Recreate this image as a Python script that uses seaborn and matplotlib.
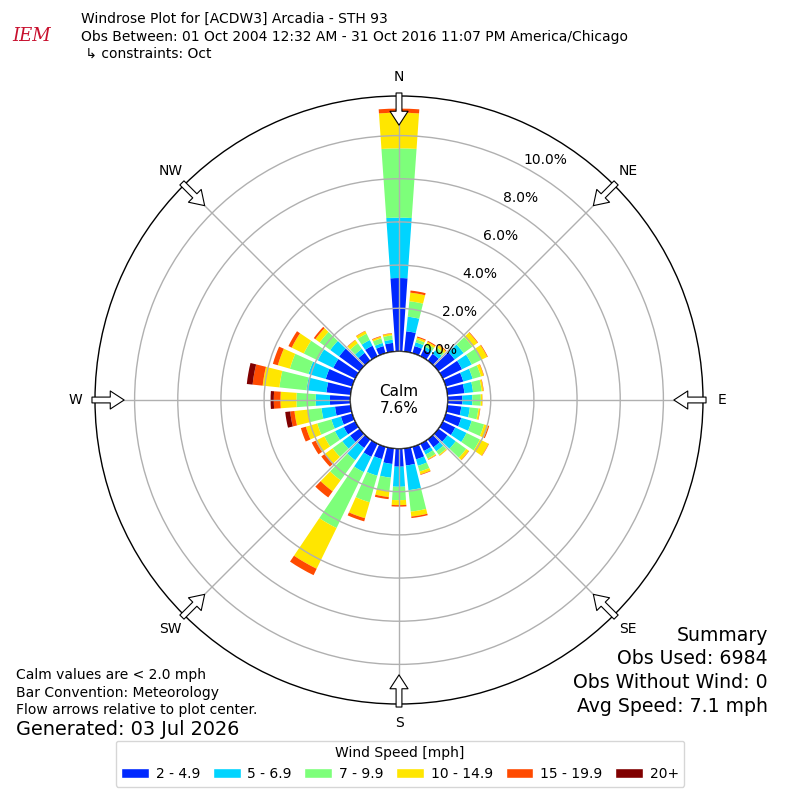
import numpy as np
import matplotlib
matplotlib.use("Agg")
import matplotlib.pyplot as plt
from matplotlib.patches import Circle, Patch
import seaborn as sns

# wind directions (deg, meteorological) and frequency (%) per speed bin
directions = [0, 10, 20, 30, 40, 50, 60, 70, 80, 90, 100, 110, 120, 130, 140, 150, 160, 170,
              180, 190, 200, 210, 220, 230, 240, 250, 260, 270, 280, 290, 300, 310, 320, 330, 340, 350]
spd_2_5 = [3.40, 0.95, 0.35, 0.35, 0.40, 0.94, 1.00, 0.85, 0.80, 0.69, 0.65, 0.75, 0.65, 0.53, 0.46, 0.38, 0.61, 0.80,
           0.84, 0.73, 0.60, 0.68, 0.50, 0.55, 0.60, 0.55, 0.73, 0.95, 1.13, 1.28, 1.14, 1.18, 0.45, 0.55, 0.35, 0.41]
spd_5_7 = [2.80, 0.68, 0.18, 0.15, 0.20, 0.51, 0.50, 0.45, 0.40, 0.46, 0.40, 0.50, 0.58, 0.47, 0.23, 0.18, 0.31, 1.15,
           0.93, 0.64, 0.80, 0.79, 0.70, 0.45, 0.45, 0.46, 0.63, 0.66, 0.93, 0.83, 0.80, 0.51, 0.23, 0.29, 0.15, 0.15]
spd_7_10 = [3.21, 0.72, 0.14, 0.15, 0.15, 0.50, 0.50, 0.40, 0.40, 0.39, 0.40, 0.60, 0.69, 0.60, 0.20, 0.21, 0.28, 1.00,
            0.62, 0.62, 1.28, 2.88, 1.15, 0.55, 0.55, 0.68, 0.63, 0.89, 1.26, 0.90, 0.72, 0.60, 0.32, 0.33, 0.22, 0.20]
spd_10_15 = [1.65, 0.40, 0.09, 0.10, 0.13, 0.30, 0.30, 0.13, 0.08, 0.07, 0.07, 0.20, 0.45, 0.15, 0.05, 0.05, 0.13, 0.23,
             0.23, 0.28, 0.77, 2.10, 0.63, 0.45, 0.45, 0.55, 0.63, 0.74, 0.78, 0.58, 0.62, 0.25, 0.18, 0.13, 0.08, 0.09]
spd_15_20 = [0.19, 0.10, 0.05, 0.05, 0.04, 0.03, 0.03, 0.02, 0.02, 0.01, 0.02, 0.05, 0.02, 0.02, 0.01, 0.02, 0.03, 0.07,
             0.07, 0.10, 0.15, 0.33, 0.35, 0.20, 0.20, 0.24, 0.20, 0.31, 0.47, 0.24, 0.17, 0.09, 0.02, 0.02, 0.03, 0.02]
spd_20p = [0, 0, 0, 0, 0, 0, 0, 0, 0, 0, 0, 0, 0, 0, 0, 0, 0, 0,
           0, 0, 0, 0, 0, 0, 0, 0, 0.23, 0.15, 0.27, 0, 0, 0, 0, 0, 0, 0]
bin_labels = ["2 - 4.9", "5 - 6.9", "7 - 9.9", "10 - 14.9", "15 - 19.9", "20+"]
bin_colors = ["#0028ff", "#00d4ff", "#7dff7a", "#ffe600", "#ff4a00", "#800000"]
calm_pct = 7.6
rticks = [0, 2, 4, 6, 8, 10]
compass = ["N", "NE", "E", "SE", "S", "SW", "W", "NW"]

sns.set_style("white")
plt.rcParams.update({"text.color": "black", "xtick.color": "black", "ytick.color": "black",
                     "axes.labelcolor": "black"})
palette = sns.color_palette(bin_colors)

fig = plt.figure(figsize=(8, 8), dpi=100)
ax = fig.add_axes([0.11875, 0.12, 0.76, 0.76], projection="polar")
ax.set_theta_zero_location("N")
ax.set_theta_direction(-1)

theta = np.radians(directions)
width = np.radians(10) * 0.8
bottom = np.zeros(len(directions))
for vals, col, lab in zip([spd_2_5, spd_5_7, spd_7_10, spd_10_15, spd_15_20, spd_20p], palette, bin_labels):
    vals = np.array(vals)
    ax.bar(theta, vals, width=width, bottom=bottom, color=col, label=lab, linewidth=0, zorder=2)
    bottom = bottom + vals

rmax = bottom.max() * 1.052
ax.set_ylim(0, rmax)
ax.set_rorigin(-2.25)
ax.set_axisbelow(False)
ax.grid(True, color="#b0b0b0", linewidth=1)
ax.set_yticks(rticks)
ax.set_yticklabels([f"{t:.1f}%" for t in rticks], fontsize=10)
ax.set_rlabel_position(28)
ax.set_xticks(np.radians(np.arange(0, 360, 45)))
ax.set_xticklabels(compass, fontsize=10)
ax.tick_params(axis="x", pad=3.5)
ax.spines["polar"].set_color("black")
ax.spines["polar"].set_linewidth(1)

# calm circle in the middle
calm = Circle((0.5, 0.5), 48.5 / 608, transform=ax.transAxes, facecolor="white",
              edgecolor="black", linewidth=1.2, zorder=5)
ax.add_patch(calm)
ax.text(0.5, 0.5, f"Calm\n{calm_pct:.1f}%", transform=ax.transAxes, ha="center", va="center",
        fontsize=11, zorder=6)

# flow arrows on the rim
for d in np.arange(0, 360, 45):
    ax.annotate("", xy=(np.radians(d), rmax - 1.35), xytext=(np.radians(d), rmax + 0.14),
                annotation_clip=False,
                arrowprops=dict(arrowstyle="simple,head_length=10,head_width=13,tail_width=4.2",
                                mutation_scale=1, fc="white", ec="black", lw=0.8,
                                shrinkA=0, shrinkB=0, clip_on=False), zorder=7)

# header
fig.text(0.101, 0.976, "Windrose Plot for [ACDW3] Arcadia - STH 93", fontsize=10, va="center")
fig.text(0.101, 0.954, "Obs Between: 01 Oct 2004 12:32 AM - 31 Oct 2016 11:07 PM America/Chicago",
         fontsize=10, va="center")
fig.text(0.101, 0.933, " \u21b3 constraints: Oct", fontsize=10, va="center")
fig.text(0.04, 0.955, "IEM", fontsize=13, color="#c8102e", fontstyle="italic", family="DejaVu Serif",
         va="center", ha="center")

# footer notes
fig.text(0.02, 0.156, "Calm values are < 2.0 mph", fontsize=10, va="center")
fig.text(0.02, 0.134, "Bar Convention: Meteorology", fontsize=10, va="center")
fig.text(0.02, 0.112, "Flow arrows relative to plot center.", fontsize=10, va="center")
fig.text(0.02, 0.088, "Generated: 03 Jul 2026", fontsize=13.9, va="center")

summary = ["Summary", "Obs Used: 6984", "Obs Without Wind: 0", "Avg Speed: 7.1 mph"]
for i, line in enumerate(summary):
    fig.text(0.96, 0.206 - i * 0.0295, line, fontsize=13.6, ha="right", va="center")

handles = [Patch(facecolor=c, label=l) for c, l in zip(palette, bin_labels)]
fig.legend(handles=handles, loc="lower center", bbox_to_anchor=(0.5, 0.008), ncol=6,
           title="Wind Speed [mph]", fontsize=10, title_fontsize=10, handlelength=2.0,
           handletextpad=0.5, columnspacing=0.9, frameon=True)

fig.savefig("out.png", dpi=100)
